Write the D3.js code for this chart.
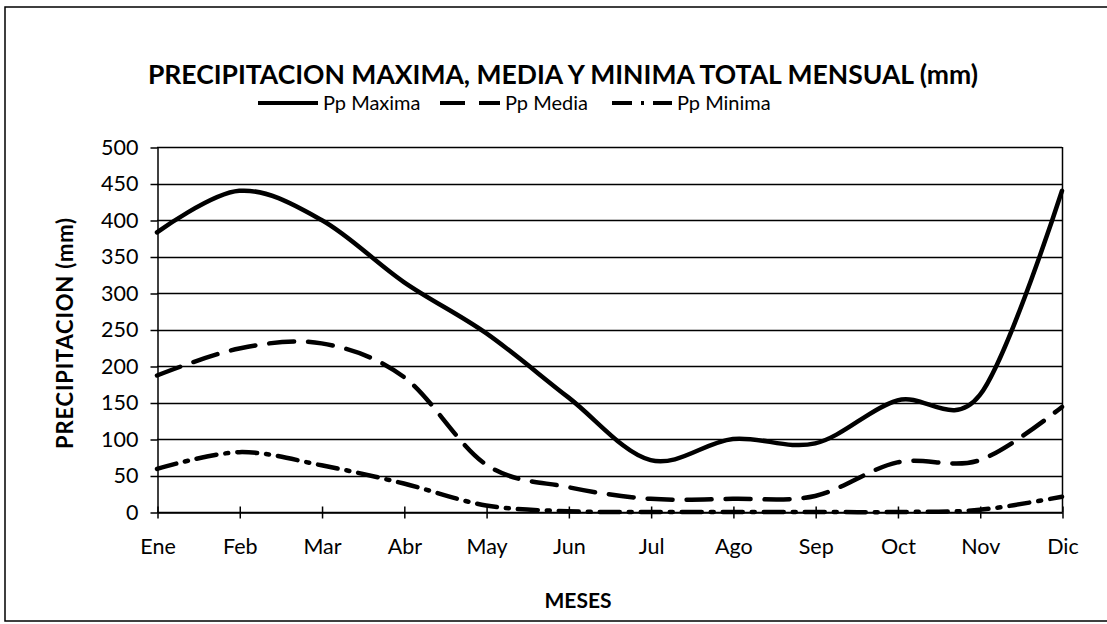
<!DOCTYPE html>
<html>
<head>
<meta charset="utf-8">
<script src="https://cdn.jsdelivr.net/npm/d3@7"></script>
<style>
  body { margin: 0; background: #fff; }
  svg { display: block; }
  text { font-family: Lato, "Open Sans", sans-serif; fill: #000; }
</style>
</head>
<body>
<div id="chart"></div>
<script>
// data
var meses = ["Ene", "Feb", "Mar", "Abr", "May", "Jun", "Jul", "Ago", "Sep", "Oct", "Nov", "Dic"];
var ppMaxima = [383, 440, 400, 315, 245, 157, 71, 100, 94, 153, 160, 440];
var ppMedia = [187, 224, 231, 185, 65, 34, 18, 18, 22, 68, 71, 144];
var ppMinima = [59, 82, 64, 39, 9, 1, 0, 0, 0, 0, 3, 21];
var yTicks = [0, 50, 100, 150, 200, 250, 300, 350, 400, 450, 500];

var width = 1107;
var height = 624;
var margin = { left: 157, right: 1062, top: 147, bottom: 512 };

var svg = d3.select('#chart')
  .append('svg')
  .attr('width', width)
  .attr('height', height);

// outer chart frame
svg.append('rect')
  .attr('x', 5)
  .attr('y', 7)
  .attr('width', 1110)
  .attr('height', 614)
  .attr('fill', 'none')
  .attr('stroke', '#000')
  .attr('stroke-width', 1.5);

var x = d3.scalePoint()
  .domain(meses)
  .range([margin.left, margin.right]);

var y = d3.scaleLinear()
  .domain([0, 500])
  .range([margin.bottom, margin.top]);

// horizontal grid
svg.append('g')
  .selectAll('line')
  .data(yTicks)
  .enter()
  .append('line')
  .attr('x1', margin.left)
  .attr('x2', margin.right)
  .attr('y1', (d) => Math.round(y(d)) + 0.5)
  .attr('y2', (d) => Math.round(y(d)) + 0.5)
  .attr('stroke', '#000')
  .attr('stroke-width', 1.3);

// right border of plot
svg.append('line')
  .attr('x1', margin.right + 0.5)
  .attr('x2', margin.right + 0.5)
  .attr('y1', margin.top)
  .attr('y2', margin.bottom)
  .attr('stroke', '#000')
  .attr('stroke-width', 1.5);

// y axis
var yAxis = svg.append('g')
  .attr('transform', 'translate(' + (margin.left + 0.5) + ',0.5)')
  .call(d3.axisLeft(y).tickValues(yTicks).tickSize(7).tickPadding(12).tickSizeOuter(0));
yAxis.selectAll('text')
  .attr('font-size', 21.5)
  .attr('font-family', 'Lato, sans-serif');
yAxis.selectAll('line, path').attr('stroke', '#000').attr('stroke-width', 1.5);

// x axis
var xAxis = svg.append('g')
  .attr('transform', 'translate(0.5,' + (Math.round(margin.bottom) + 0.5) + ')')
  .call(d3.axisBottom(x).tickSize(6).tickPadding(20).tickSizeOuter(0));
xAxis.selectAll('.tick line').attr('y1', -6);
xAxis.selectAll('text')
  .attr('font-size', 21.5)
  .attr('font-family', 'Lato, sans-serif');
xAxis.selectAll('line, path').attr('stroke', '#000').attr('stroke-width', 1.5);

var series = [
  { name: 'Pp Maxima', values: ppMaxima, dash: null },
  { name: 'Pp Media', values: ppMedia, dash: '25,14' },
  { name: 'Pp Minima', values: ppMinima, dash: '20,9,3,9' }
];

var line = d3.line()
  .x((d, i) => x(meses[i]))
  .y((d) => y(d))
  .curve(d3.curveCardinal.tension(0));

svg.append('g')
  .selectAll('path')
  .data(series)
  .enter()
  .append('path')
  .attr('d', (d) => line(d.values))
  .attr('fill', 'none')
  .attr('stroke', '#000')
  .attr('stroke-width', 4.5)
  .attr('stroke-linecap', 'round')
  .attr('stroke-dasharray', (d) => d.dash);

// title
svg.append('text')
  .attr('x', 563)
  .attr('y', 84)
  .attr('text-anchor', 'middle')
  .attr('font-size', 26.5)
  .attr('font-weight', 'bold')
  .text('PRECIPITACION MAXIMA, MEDIA Y MINIMA TOTAL MENSUAL (mm)');

// legend
var legendX = [258, 440, 612];
var legend = svg.append('g')
  .selectAll('g')
  .data(series)
  .enter()
  .append('g')
  .attr('transform', (d, i) => 'translate(' + legendX[i] + ',103)');
legend.append('line')
  .attr('x1', 0)
  .attr('x2', 60)
  .attr('stroke', '#000')
  .attr('stroke-width', 4)
  .attr('stroke-dasharray', (d) => d.dash);
legend.append('text')
  .attr('x', 65)
  .attr('y', 7)
  .attr('font-size', 20)
  .text((d) => d.name);

// axis titles
svg.append('text')
  .attr('transform', 'translate(73,333) rotate(-90)')
  .attr('text-anchor', 'middle')
  .attr('font-size', 22)
  .attr('font-weight', 'bold')
  .attr('letter-spacing', 0.8)
  .text('PRECIPITACION (mm)');

svg.append('text')
  .attr('x', 578)
  .attr('y', 608)
  .attr('text-anchor', 'middle')
  .attr('font-size', 21)
  .attr('font-weight', 'bold')
  .text('MESES');
</script>
</body>
</html>
